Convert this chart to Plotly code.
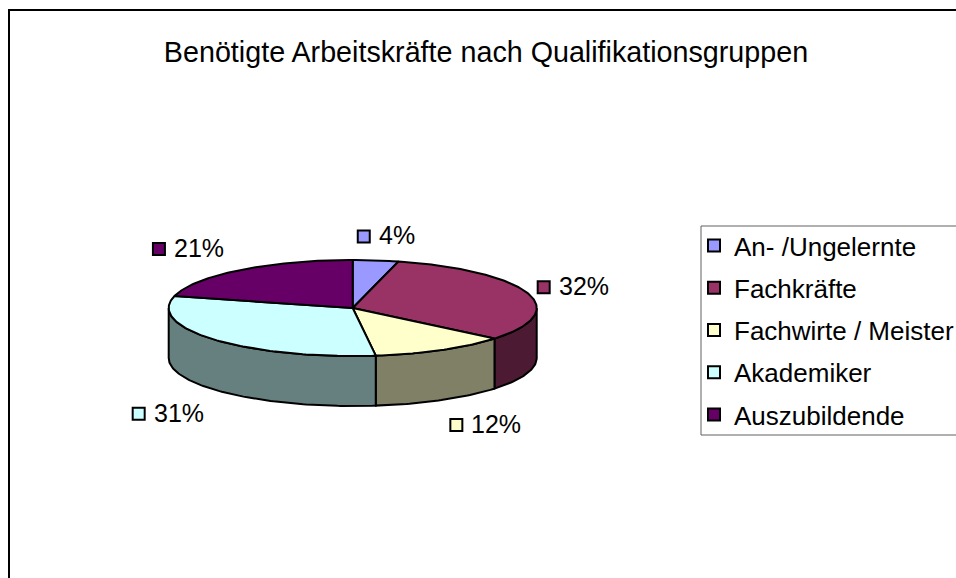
import math
import plotly.graph_objects as go

TITLE = "Benötigte Arbeitskräfte nach Qualifikationsgruppen"
categories = ["An- /Ungelernte", "Fachkräfte", "Fachwirte / Meister", "Akademiker", "Auszubildende"]
values = [4, 32, 12, 31, 21]
top_colors = ["#9999FF", "#993366", "#FFFFCC", "#CCFFFF", "#660066"]
side_colors = ["#4D4D80", "#4D1A33", "#808066", "#668080", "#330033"]
# label marker offset from the slice's rim midpoint (pixels)
label_dx = [-12, 16, 15, -76, -81]
label_dy = [-24, -6, 75, 74, -21]

CX, CY, RX, RY, DEPTH = 352.7, 308, 184, 48, 50
FONT = "Liberation Sans, Arial, sans-serif"
total = sum(values)


def rim(theta_deg, dy=0):
    t = math.radians(theta_deg)
    return CX + RX * math.sin(t), CY - RY * math.cos(t) + dy


def arc(a, b, dy=0):
    n = max(2, int(abs(b - a)) + 2)
    return [rim(a + (b - a) * i / (n - 1), dy) for i in range(n)]


fig = go.Figure()
edges = [0]
for v in values:
    edges.append(edges[-1] + v / total * 360)

# side walls (only the part facing the viewer: 90..270 degrees clockwise from top)
for i in range(len(values)):
    a, b = max(edges[i], 90), min(edges[i + 1], 270)
    if b <= a:
        continue
    pts = arc(a, b) + arc(b, a, DEPTH)
    pts.append(pts[0])
    fig.add_trace(go.Scatter(x=[p[0] for p in pts], y=[p[1] for p in pts], mode="lines", fill="toself",
                             fillcolor=side_colors[i], line=dict(color="black", width=2),
                             hoverinfo="skip", showlegend=False))

# top faces
for i in range(len(values)):
    pts = [(CX, CY)] + arc(edges[i], edges[i + 1]) + [(CX, CY)]
    fig.add_trace(go.Scatter(x=[p[0] for p in pts], y=[p[1] for p in pts], mode="lines", fill="toself",
                             fillcolor=top_colors[i], line=dict(color="black", width=2),
                             name=categories[i], hoverinfo="name", showlegend=False))

# label keys, which also feed the legend
annotations = []
for i in range(len(values)):
    mx, my = rim((edges[i] + edges[i + 1]) / 2)
    lx, ly = mx + label_dx[i], my + label_dy[i]
    fig.add_trace(go.Scatter(x=[lx], y=[ly], mode="markers", name=categories[i], legendgroup=categories[i],
                             marker=dict(symbol="square", size=12, color=top_colors[i],
                                         line=dict(color="black", width=2)),
                             hoverinfo="skip"))
    annotations.append(dict(x=lx, y=ly, xref="x", yref="y", xshift=13, yshift=1, xanchor="left", yanchor="middle",
                            showarrow=False, text=f"{values[i]}%", font=dict(family=FONT, size=25, color="black")))

shapes = [
    # chart area frame: left and top edges
    dict(type="line", xref="x", yref="y", x0=9, x1=9, y0=10, y1=578, line=dict(color="black", width=2)),
    dict(type="line", xref="x", yref="y", x0=8, x1=956, y0=10, y1=10, line=dict(color="black", width=2)),
    # legend box
    dict(type="rect", xref="x", yref="y", x0=701, x1=970, y0=226, y1=435, line=dict(color="#606060", width=1)),
]

fig.update_layout(
    width=956, height=578, margin=dict(l=0, r=0, t=0, b=0, autoexpand=False),
    paper_bgcolor="white", plot_bgcolor="white",
    xaxis=dict(range=[0, 956], visible=False, fixedrange=True),
    yaxis=dict(range=[578, 0], visible=False, fixedrange=True),
    title=dict(text=TITLE, x=486 / 956, xanchor="center", y=1 - 52 / 578, yanchor="middle",
               font=dict(family=FONT, size=28.7, color="black")),
    legend=dict(x=694 / 956, xanchor="left", y=1 - 222 / 578, yanchor="top", borderwidth=0,
                bgcolor="rgba(0,0,0,0)", tracegroupgap=5.5, itemsizing="constant",
                font=dict(family=FONT, size=26, color="black")),
    shapes=shapes, annotations=annotations,
)

fig.write_html("out.html", config={"displayModeBar": False}, post_script="document.body.style.margin='0';")
